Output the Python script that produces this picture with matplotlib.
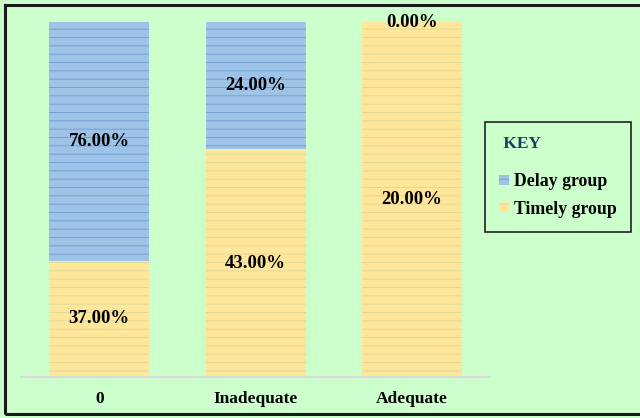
import matplotlib
matplotlib.use('Agg')
import matplotlib.pyplot as plt
import matplotlib.patches as mpatches
import numpy as np

plt.rcParams['font.family'] = ['Liberation Serif', 'DejaVu Serif']
plt.rcParams['font.weight'] = 'bold'
plt.rcParams['hatch.linewidth'] = 0.6

categories = ['0', 'Inadequate', 'Adequate']
timely = [37, 43, 20]
delay = [76, 24, 0]

bg = '#ccffcc'
timely_fill, timely_hatch = '#ffe699', '#d9d79a'
delay_fill, delay_hatch = '#9dc3e6', '#6d9bd6'

timely = np.array(timely, dtype=float)
delay = np.array(delay, dtype=float)
total = timely + delay
timely_share = timely / total
delay_share = delay / total

fig = plt.figure(figsize=(6.4, 4.18), dpi=100, facecolor=bg)
ax = fig.add_axes([0.033, 0.098, 0.733, 0.849], facecolor=bg)

x = np.arange(len(categories))
w = 0.64
b1 = ax.bar(x, timely_share, w, color=timely_fill, edgecolor=timely_hatch,
            linewidth=0, hatch='--', label='Timely group')
b2 = ax.bar(x, delay_share, w, bottom=timely_share, color=delay_fill,
            edgecolor=delay_hatch, linewidth=0, hatch='--', label='Delay group')

# value labels sit in the middle of each segment
for i in range(len(x)):
    ax.text(x[i], timely_share[i] / 2, f'{timely[i]:.2f}%', ha='center',
            va='center', fontsize=13.5, fontweight='bold')
    ax.text(x[i], timely_share[i] + delay_share[i] / 2, f'{delay[i]:.2f}%',
            ha='center', va='center', fontsize=13.5, fontweight='bold')

ax.set_xlim(-0.5, 2.5)
ax.set_ylim(0, 1)
ax.set_yticks([])
ax.set_xticks(x)
ax.set_xticklabels(categories, fontsize=12.5, fontweight='bold')
ax.tick_params(axis='x', length=0, pad=10)
for s in ['top', 'right', 'left']:
    ax.spines[s].set_visible(False)
ax.spines['bottom'].set_color('#d9d9d9')
ax.spines['bottom'].set_linewidth(1.5)

leg = fig.legend(handles=[b2, b1], labels=['Delay group', 'Timely group'],
                 title=' KEY', loc='upper left',
                 bbox_to_anchor=(485 / 640, 1 - 122 / 418),
                 prop={'family': 'Liberation Serif', 'weight': 'bold', 'size': 12.8},
                 title_fontproperties={'family': 'Liberation Serif', 'weight': 'bold', 'size': 12.5},
                 alignment='left', frameon=True, fancybox=False,
                 facecolor=bg, edgecolor='#222222', framealpha=1,
                 handlelength=0.55, handleheight=0.5, handletextpad=0.3,
                 borderpad=0.8, labelspacing=0.6, borderaxespad=0)
leg.get_title().set_color('#1f3864')
leg.get_frame().set_linewidth(1.2)
# extra room between the title and the entries
leg._legend_box.sep = 15

# dark frame around the whole figure
fig.patches.append(mpatches.Rectangle((5 / 640, 4 / 418), 1, 1 - 9 / 418,
                                      transform=fig.transFigure, fill=False,
                                      edgecolor='#1a1a1a', linewidth=2.2))

fig.savefig('out.png', dpi=100, facecolor=bg)
